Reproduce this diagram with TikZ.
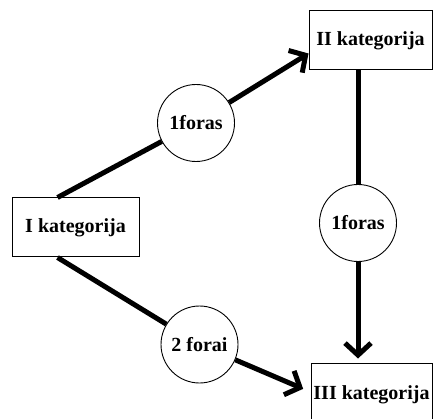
\documentclass[tikz,border=0pt]{standalone}
\usepackage{fontspec}
\setmainfont{Liberation Serif}
\usetikzlibrary{arrows.meta,calc}
\tikzset{
  lbl/.style={font=\bfseries\fontsize{20}{22}\selectfont},
  box/.style={draw, line width=1pt, rectangle, inner sep=0pt, lbl},
  circ/.style={draw, line width=0.9pt, circle, inner sep=0pt, minimum size=77pt, lbl},
  conn/.style={line width=5pt},
  arr/.style={line width=5pt, -{Straight Barb[length=12pt,width=26pt]}}
}
\begin{document}
\begin{tikzpicture}[x=1pt,y=-1pt]
\clip (0,0) rectangle (433,419);
\fill[white] (0,0) rectangle (433,419);
\node[box, minimum width=127pt, minimum height=59pt] (I) at (75.5,227.5) {I kategorija};
\node[box, minimum width=123pt, minimum height=59pt] (II) at (370.5,40.5) {II kategorija};
\node[box, minimum width=121pt, minimum height=64pt] (III) at (371.5,395) {III kategorija};
\node[circ] (c1) at (196,123) {1foras};
\node[circ] (c2) at (358,223) {1foras};
\node[circ] (c3) at (199.5,344.5) {2 forai};
\draw[conn] ([xshift=46pt]I.north west) -- (c1);
\draw[arr] (c1) -- ([yshift=17pt]II.south west);
\draw[conn] (II.south -| c2) -- (c2);
\draw[arr, shorten >=4pt] (c2) -- (III.north -| c2);
\draw[conn] ([xshift=46pt]I.south west) -- (c3);
\draw[arr, shorten >=8pt] (c3) -- ([yshift=3pt]III.west);
\end{tikzpicture}
\end{document}
